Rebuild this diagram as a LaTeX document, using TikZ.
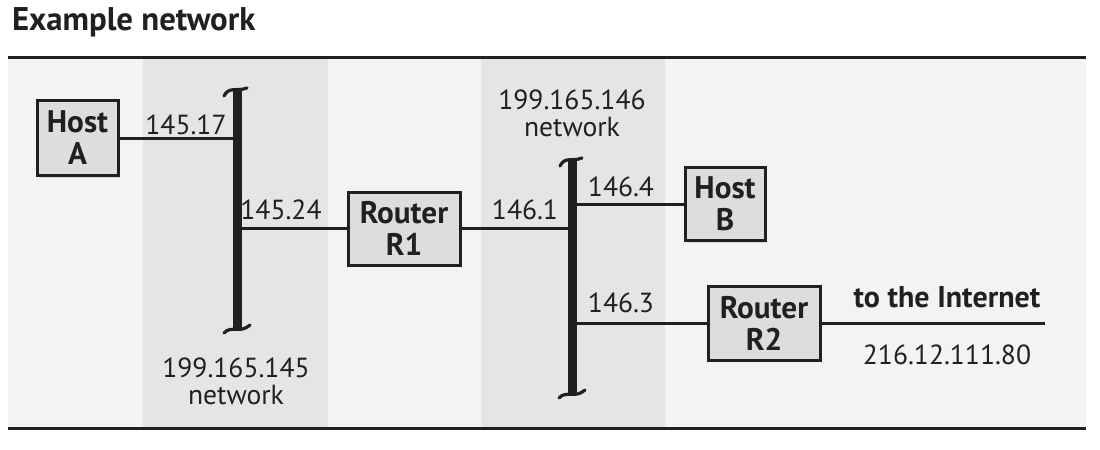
\documentclass[tikz,border=0pt]{standalone}
\usepackage{fontspec}
\setmainfont{PT Sans}
\usetikzlibrary{shadows}

\definecolor{ink}{HTML}{231F20}
\definecolor{panel}{HTML}{F2F3F3}
\definecolor{column}{HTML}{E4E5E6}
\definecolor{boxfill}{HTML}{DCDDDE}

\tikzset{
  device/.style={draw=ink, line width=1.5pt, fill=boxfill, align=center,
    inner sep=0pt, text=ink, font=\bfseries\fontsize{15.6}{16}\selectfont,
    drop shadow={opacity=0.25, shadow xshift=1pt, shadow yshift=-1pt}},
  wire/.style={draw=ink, line width=1.5pt},
  addr/.style={text=ink, align=center, font=\fontsize{13.8}{13.5}\selectfont},
  tilde/.style={draw=ink, line width=1.6pt, line cap=round},
}

\begin{document}
\begin{tikzpicture}[x=0.5pt, y=-0.5pt]
            \useasboundingbox (0,0) rectangle (1100,450);

            % background and the two network columns
            \fill[panel] (8,58) rectangle (1086,427);
            \fill[column] (143,58) rectangle (328,427);
            \fill[column] (481,58) rectangle (665,427);
            \draw[ink, line width=1.5pt] (8,57) -- (1086,57);
            \draw[ink, line width=1.5pt] (8,428) -- (1086,428);

            \node[anchor=west, text=ink, font=\bfseries\fontsize{16.4}{17}\selectfont] (title) at (5,22) {Example network};

            % network buses
            \coordinate (bus1) at (237,92);
            \coordinate (bus2) at (572,162);
            \draw[ink, line width=4.5pt] (237,91) -- (237,329);
            \draw[tilde] (224,96) .. controls (229,86) and (236,92) .. (247,88);
            \draw[tilde] (224,333) .. controls (231,325) and (240,334) .. (250,325);
            \draw[ink, line width=4.5pt] (572,161) -- (572,393);
            \draw[tilde] (560,166) .. controls (565,156) and (572,162) .. (582,158);
            \draw[tilde] (559,398) .. controls (566,390) and (575,399) .. (585,390);

            % devices
            \node[device, minimum width=40.5pt, minimum height=37.5pt] (hosta) at (77.5,138) {Host\\A};
            \node[device, minimum width=56pt, minimum height=36.5pt] (router1) at (404,228.5) {Router\\R1};
            \node[device, minimum width=40pt, minimum height=36.5pt] (hostb) at (725,204) {Host\\B};
            \node[device, minimum width=56pt, minimum height=37pt] (router2) at (764,323) {Router\\R2};
            \coordinate (internet) at (1045,323);

            % connections
            \draw[wire] (hosta.east) -- (hosta.east -| bus1);
            \draw[wire] (router1.west) -- (router1.west -| bus1);
            \draw[wire] (router1.east) -- (router1.east -| bus2);
            \draw[wire] (hostb.west) -- (hostb.west -| bus2);
            \draw[wire] (router2.west) -- (router2.west -| bus2);
            \draw[wire] (router2.east) -- (internet);

            % addresses
            \node[addr] (a1) at (186,125) {145.17};
            \node[addr] (a2) at (281,210) {145.24};
            \node[addr] (a3) at (525,210) {146.1};
            \node[addr] (a4) at (621,187) {146.4};
            \node[addr] (a5) at (621,303) {146.3};
            \node[addr] (net2) at (572,113) {199.165.146\\network};
            \node[addr] (net1) at (236,381) {199.165.145\\network};
            \node[addr, font=\bfseries\fontsize{15}{15}\selectfont] (inet) at (947,297) {to the Internet};
            \node[addr] (a6) at (947,355) {216.12.111.80};
        \end{tikzpicture}
\end{document}
